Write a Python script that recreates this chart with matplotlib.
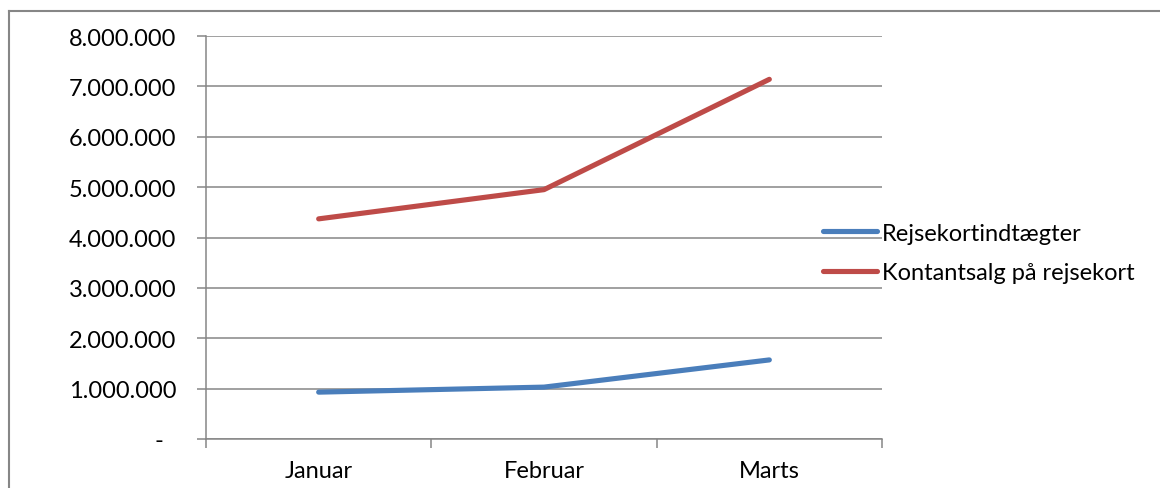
import matplotlib.pyplot as plt
from matplotlib.lines import Line2D
from matplotlib.ticker import FuncFormatter

# Data
months = ['Januar', 'Februar', 'Marts']
rejsekort = [930000, 1030000, 1570000]
kontantsalg = [4370000, 4950000, 7140000]
series_names = ['Rejsekortindtægter', 'Kontantsalg på rejsekort']

plt.rcParams['font.family'] = ['Lato', 'DejaVu Sans']
grid_col = '#868686'
fs = 17

fig = plt.figure(figsize=(11.6, 4.89), dpi=100)
ax = fig.add_axes([206 / 1160, 1 - 440 / 489, (882 - 206) / 1160, (440 - 37) / 489])

x = list(range(len(months)))
ax.plot(x, rejsekort, color='#4A7EBB', lw=3.7, solid_capstyle='round',
        solid_joinstyle='round', label=series_names[0], zorder=3)
ax.plot(x, kontantsalg, color='#BE4B48', lw=3.7, solid_capstyle='round',
        solid_joinstyle='round', label=series_names[1], zorder=3)

ax.set_xlim(-0.5, len(months) - 0.5)
ax.set_ylim(0, 8000000)

# y axis: Excel style thousands with dots, zero as dash
ax.set_yticks(range(0, 8000001, 1000000))
ax.yaxis.set_major_formatter(FuncFormatter(
    lambda v, p: '-  ' if v == 0 else f'{int(v):,}'.replace(',', '.')))
ax.yaxis.grid(True, color=grid_col, lw=1.1)
ax.tick_params(axis='y', length=6.5, width=1.1, color=grid_col, pad=15,
               labelsize=fs, direction='out')

# x axis: labels at category centres, tick marks at boundaries
ax.set_xticks(x)
ax.set_xticklabels(months)
ax.set_xticks([i - 0.5 for i in range(len(months) + 1)], minor=True)
ax.tick_params(axis='x', which='major', length=0, pad=15, labelsize=fs)
ax.tick_params(axis='x', which='minor', length=6.5, width=1.1, color=grid_col,
               direction='out')

for s in ['top', 'right']:
    ax.spines[s].set_visible(False)
for s in ['left', 'bottom']:
    ax.spines[s].set_color(grid_col)
    ax.spines[s].set_linewidth(1.1)

leg = fig.legend(handles=[Line2D([], [], color='#4A7EBB', lw=3.7, solid_capstyle='round'),
                          Line2D([], [], color='#BE4B48', lw=3.7, solid_capstyle='round')],
                 labels=series_names, loc='center left',
                 bbox_to_anchor=(823 / 1160, 1 - 254 / 489), frameon=False,
                 fontsize=fs, handlelength=2.3, handletextpad=0.2,
                 labelspacing=0.8, borderpad=0, borderaxespad=0)

# outer chart border (only top and left visible in the crop)
fig.add_artist(Line2D([9 / 1160, 9 / 1160], [0, 1 - 12 / 489], transform=fig.transFigure,
                      color=grid_col, lw=1.5))
fig.add_artist(Line2D([9 / 1160, 1], [1 - 12 / 489, 1 - 12 / 489], transform=fig.transFigure,
                      color=grid_col, lw=1.5))

fig.savefig('out.png', dpi=100, facecolor='white')
